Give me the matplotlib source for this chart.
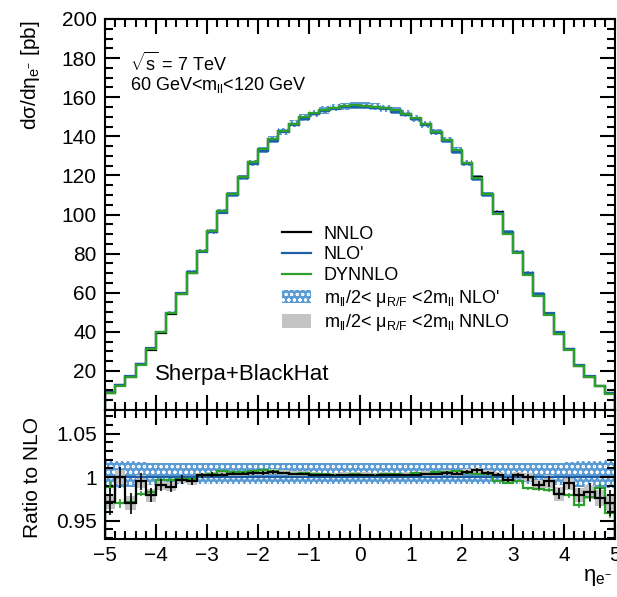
import numpy as np
import matplotlib
matplotlib.use("Agg")
import matplotlib.pyplot as plt
from matplotlib.lines import Line2D
from matplotlib.patches import Patch
from matplotlib.ticker import MultipleLocator

plt.rcParams['font.family'] = ['Liberation Sans', 'DejaVu Sans']
plt.rcParams['mathtext.fontset'] = 'custom'
plt.rcParams['mathtext.rm'] = 'Liberation Sans'
plt.rcParams['mathtext.it'] = 'Liberation Sans'
plt.rcParams['mathtext.sf'] = 'Liberation Sans'
plt.rcParams['hatch.linewidth'] = 0.7

# bin edges in electron pseudorapidity
eta_edges = np.linspace(-5, 5, 51)

# NLO' cross section per bin [pb]
nlo = [9.0, 12.7, 17.4, 23.4, 31.6, 40.0, 49.7, 59.6, 70.4, 81.0,
       91.0, 101.0, 110.0, 118.5, 126.0, 132.5, 137.8, 142.0, 145.8, 149.0,
       151.2, 152.8, 154.0, 154.8, 155.2,
       155.0, 154.6, 153.8, 152.6, 151.0, 148.6, 145.6, 141.6, 137.5, 132.2,
       125.8, 118.3, 109.8, 100.8, 90.8, 80.6, 70.0, 59.3, 49.4, 39.8,
       31.4, 23.2, 17.2, 12.5, 8.8]

# ratios to NLO'
ratio_nnlo = [0.972, 1.000, 0.970, 0.995, 0.979, 0.991, 0.989, 0.997, 0.995, 1.002,
              1.003, 1.003, 1.004, 1.004, 1.005, 1.005, 1.006, 1.005, 1.004, 1.004,
              1.003, 1.002, 1.002, 1.003, 1.003,
              1.003, 1.002, 1.003, 1.002, 1.003, 1.003, 1.004, 1.004, 1.005, 1.004,
              1.006, 1.008, 1.005, 1.003, 0.997, 1.002, 1.000, 0.991, 0.995, 0.981,
              0.993, 0.979, 0.983, 0.976, 0.970]
err_nnlo = [0.015, 0.012, 0.012, 0.010, 0.008, 0.007, 0.006, 0.005, 0.004, 0.003,
            0.003, 0.002, 0.002, 0.002, 0.002, 0.002, 0.002, 0.001, 0.001, 0.001,
            0.001, 0.001, 0.001, 0.001, 0.001,
            0.001, 0.001, 0.001, 0.001, 0.001, 0.001, 0.001, 0.001, 0.002, 0.002,
            0.002, 0.003, 0.002, 0.002, 0.003, 0.003, 0.004, 0.005, 0.006, 0.006,
            0.007, 0.008, 0.010, 0.012, 0.015]
ratio_dynnlo = [0.989, 0.970, 0.972, 0.981, 0.983, 0.997, 0.997, 0.998, 0.998, 1.002,
                1.004, 1.007, 1.006, 1.006, 1.007, 1.008, 1.007, 1.005, 1.004, 1.005,
                1.004, 1.004, 1.003, 1.003, 1.004,
                1.003, 1.003, 1.004, 1.004, 1.003, 1.005, 1.004, 1.006, 1.006, 1.007,
                1.005, 1.004, 1.004, 0.996, 0.993, 0.995, 0.987, 0.986, 0.985, 0.981,
                0.979, 0.968, 0.977, 0.987, 0.959]
err_dynnlo = [0.006, 0.005, 0.004, 0.003, 0.003, 0.002, 0.002, 0.002, 0.001, 0.001,
              0.001, 0.001, 0.001, 0.001, 0.001, 0.001, 0.001, 0.001, 0.001, 0.001,
              0.001, 0.001, 0.001, 0.001, 0.001,
              0.001, 0.001, 0.001, 0.001, 0.001, 0.001, 0.001, 0.001, 0.001, 0.001,
              0.001, 0.001, 0.001, 0.001, 0.001, 0.001, 0.002, 0.002, 0.002, 0.003,
              0.003, 0.004, 0.005, 0.006, 0.006]

# scale variation bands (relative)
nlo_band_up = [1.020, 1.019, 1.018, 1.017, 1.016, 1.016, 1.016, 1.016, 1.016, 1.016,
               1.016, 1.016, 1.016, 1.016, 1.016, 1.016, 1.016, 1.016, 1.016, 1.016,
               1.016, 1.016, 1.016, 1.016, 1.016,
               1.016, 1.016, 1.016, 1.016, 1.016, 1.016, 1.016, 1.016, 1.016, 1.016,
               1.016, 1.016, 1.016, 1.016, 1.016, 1.016, 1.016, 1.016, 1.016, 1.016,
               1.017, 1.018, 1.019, 1.019, 1.020]
nlo_band_dn = [0.987, 0.988, 0.989, 0.990, 0.991, 0.992, 0.992, 0.992, 0.992, 0.992,
               0.992, 0.992, 0.992, 0.992, 0.992, 0.992, 0.992, 0.992, 0.992, 0.992,
               0.992, 0.992, 0.992, 0.992, 0.992,
               0.992, 0.992, 0.992, 0.992, 0.992, 0.992, 0.992, 0.992, 0.992, 0.992,
               0.992, 0.992, 0.992, 0.992, 0.992, 0.992, 0.992, 0.992, 0.992, 0.991,
               0.990, 0.989, 0.988, 0.988, 0.987]
nnlo_band = [0.009, 0.008, 0.008, 0.008, 0.007, 0.006, 0.005, 0.004, 0.004, 0.003,
             0.003, 0.003, 0.003, 0.003, 0.003, 0.003, 0.003, 0.003, 0.003, 0.003,
             0.003, 0.003, 0.003, 0.003, 0.003,
             0.003, 0.003, 0.003, 0.003, 0.003, 0.003, 0.003, 0.003, 0.003, 0.003,
             0.003, 0.003, 0.003, 0.003, 0.004, 0.004, 0.005, 0.006, 0.007, 0.008,
             0.008, 0.008, 0.008, 0.009, 0.009]

nlo = np.array(nlo)
ratio_nnlo = np.array(ratio_nnlo)
ratio_dynnlo = np.array(ratio_dynnlo)
nnlo = nlo * ratio_nnlo
dynnlo = nlo * ratio_dynnlo
nnlo_band = np.array(nnlo_band)
centers = 0.5 * (eta_edges[1:] + eta_edges[:-1])

c_black = 'black'
c_blue = '#1f5fa6'
c_green = '#2ca02c'
c_band = '#5b9bd5'
c_gray = '#c4c4c4'

fig = plt.figure(figsize=(6.17, 5.97), dpi=100)
ax = fig.add_axes([105 / 617, 1 - 410 / 597, 510 / 617, 391 / 597])
rax = fig.add_axes([105 / 617, 1 - 539 / 597, 510 / 617, 129 / 597])

# top panel
ax.stairs(nlo * np.array(nlo_band_up), eta_edges, baseline=nlo * np.array(nlo_band_dn),
          fill=True, facecolor=c_band, edgecolor='white', hatch='ooo', lw=0)
ax.stairs(nnlo * (1 + nnlo_band), eta_edges, baseline=nnlo * (1 - nnlo_band),
          fill=True, facecolor=c_gray, lw=0)
ax.stairs(nnlo, eta_edges, color=c_black, lw=1.6)
ax.stairs(nlo, eta_edges, color=c_blue, lw=1.6)
ax.stairs(dynnlo, eta_edges, color=c_green, lw=1.6)

ax.set_xlim(-5, 5)
ax.set_ylim(0, 200)
ax.yaxis.set_major_locator(MultipleLocator(20))
ax.yaxis.set_minor_locator(MultipleLocator(5))
ax.xaxis.set_major_locator(MultipleLocator(1))
ax.xaxis.set_minor_locator(MultipleLocator(0.2))
ax.set_yticks(np.arange(20, 201, 20))
ax.tick_params(labelbottom=False)

ax.text(0.049, 0.887, r"$\sqrt{s}$ = 7 TeV", transform=ax.transAxes, fontsize=13, va='center')
ax.text(0.049, 0.831, r"60 GeV<m$_{\rm ll}$<120 GeV", transform=ax.transAxes, fontsize=13, va='center')
ax.text(0.098, 0.09, "Sherpa+BlackHat", transform=ax.transAxes, fontsize=16, va='center')

handles = [Line2D([], [], color=c_black, lw=1.6),
           Line2D([], [], color=c_blue, lw=1.6),
           Line2D([], [], color=c_green, lw=1.6),
           Patch(facecolor=c_band, edgecolor='white', hatch='ooo', lw=0),
           Patch(facecolor=c_gray, lw=0)]
labels = ["NNLO", "NLO'", "DYNNLO",
          r"m$_{\rm ll}$/2< $\mu_{\rm R/F}$ <2m$_{\rm ll}$ NLO'",
          r"m$_{\rm ll}$/2< $\mu_{\rm R/F}$ <2m$_{\rm ll}$ NNLO"]
ax.legend(handles, labels, loc='upper left', bbox_to_anchor=(0.33, 0.495), frameon=False,
          fontsize=13, handlelength=1.6, handleheight=0.8, labelspacing=0.2, borderpad=0,
          handletextpad=0.7)

# ratio panel
rax.stairs(nlo_band_up, eta_edges, baseline=nlo_band_dn, fill=True,
           facecolor=c_band, edgecolor='white', hatch='ooo', lw=0)
rax.stairs(ratio_nnlo + nnlo_band, eta_edges, baseline=ratio_nnlo - nnlo_band,
           fill=True, facecolor=c_gray, lw=0)
rax.stairs(np.ones(50), eta_edges, color=c_blue, lw=1.6)
rax.stairs(ratio_dynnlo, eta_edges, color=c_green, lw=1.6)
rax.errorbar(centers, ratio_dynnlo, yerr=err_dynnlo, fmt='none', ecolor=c_green, elinewidth=1.2)
rax.stairs(ratio_nnlo, eta_edges, color=c_black, lw=1.6)
rax.errorbar(centers, ratio_nnlo, yerr=err_nnlo, fmt='none', ecolor=c_black, elinewidth=1.2)

rax.set_xlim(-5, 5)
rax.set_ylim(0.929, 1.077)
rax.set_yticks([0.95, 1.0, 1.05])
rax.set_yticklabels(["0.95", "1", "1.05"])
rax.yaxis.set_minor_locator(MultipleLocator(0.01))
rax.xaxis.set_major_locator(MultipleLocator(1))
rax.xaxis.set_minor_locator(MultipleLocator(0.2))
rax.set_xticks(np.arange(-5, 6, 1))

for a in (ax, rax):
    a.tick_params(which='both', direction='in', top=True, right=True, labelsize=15, width=1.5)
    a.tick_params(which='major', length=11)
    a.tick_params(which='minor', length=6)
    a.tick_params(axis='y', pad=6)
    a.tick_params(axis='x', pad=5)
    for s in a.spines.values():
        s.set_linewidth(1.5)

fig.text(30 / 617, 1 - 20 / 597, r"d$\sigma$/d$\eta_{\rm e^{-}}$ [pb]", rotation=90,
         ha='center', va='top', fontsize=15)
fig.text(33 / 617, 1 - 478 / 597, "Ratio to NLO", rotation=90, ha='center', va='center', fontsize=15)
fig.text(612 / 617, 1 - 578 / 597, r"$\eta_{\rm e^{-}}$", ha='right', va='center', fontsize=16)

fig.savefig("out.png", dpi=100)
